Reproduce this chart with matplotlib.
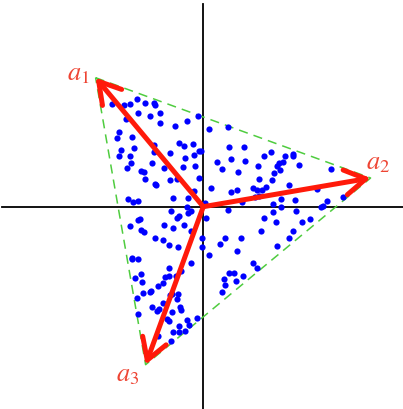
import numpy as np
import matplotlib.pyplot as plt

plt.rcParams['mathtext.fontset'] = 'stix'

# triangle vertices (data units)
ax_x = [-1.077, 1.673, -0.577]
ax_y = [1.290, 0.287, -1.580]
labels = [r'$a_1$', r'$a_2$', r'$a_3$']
label_x = [-1.25, 1.75, -0.76]
label_y = [1.34, 0.45, -1.67]

# points (pixel coords at 3x scale)
px = [336, 373, 391, 410, 434, 463, 466, 377, 414, 450, 479, 479, 524, 561, 594, 626, 685,
      358, 350, 397, 362, 402, 357, 391, 393, 382, 422, 433, 434, 455, 462, 462, 464, 468,
      493, 511, 536, 552, 578, 597, 603, 554, 581, 585, 548, 597, 511, 530, 583, 383, 399,
      413, 520, 565,
      686, 731, 652, 693, 735, 666, 714, 773, 791, 812, 856, 879, 878, 896, 994, 838, 848,
      832, 840, 823, 815, 778, 868, 951, 798, 758, 770, 785, 778, 712, 694, 633, 725, 766,
      819, 843, 884, 843, 888, 818, 962, 970, 982, 1028, 616, 684,
      617, 793, 829, 905, 929, 880, 868, 783, 830, 675, 724, 659, 712, 627, 606, 605, 760,
      770, 687, 703, 730, 672, 675, 708, 665,
      573, 565, 560, 537, 531, 512, 551, 519, 492, 390, 413, 421, 422, 431, 466, 490, 506,
      535, 572, 573, 508, 542, 527, 496, 506, 396, 395, 415, 404, 422, 425, 490, 475, 452,
      450, 428, 410, 414, 455, 476, 488, 472, 509, 517, 535, 530, 540, 542, 516, 500, 507,
      562, 568, 590, 537, 519, 536, 556, 512, 475]
py = [315, 317, 314, 300, 311, 311, 318, 360, 342, 352, 342, 373, 380, 366, 350, 389, 383,
      400, 416, 415, 452, 448, 472, 470, 493, 507, 517, 518, 540, 493, 438, 460, 556, 558,
      508, 463, 432, 440, 434, 456, 456, 478, 468, 500, 505, 537, 543, 541, 577, 600, 608,
      607, 596, 598,
      445, 443, 490, 481, 486, 511, 518, 500, 470, 460, 470, 465, 471, 498, 510, 492, 490,
      502, 512, 523, 543, 541, 558, 571, 565, 566, 573, 573, 590, 572, 580, 568, 610, 595,
      614, 600, 603, 625, 635, 640, 625, 620, 605, 595, 612, 632,
      658, 657, 669, 670, 661, 695, 718, 695, 742, 717, 716, 736, 757, 767, 717, 745, 793,
      807, 822, 822, 831, 839, 857, 847, 879,
      637, 641, 624, 651, 656, 636, 677, 687, 679, 681, 664, 659, 693, 698, 717, 723, 738,
      745, 695, 792, 806, 815, 830, 835, 830, 776, 781, 779, 838, 825, 848, 852, 862, 877,
      880, 881, 898, 945, 923, 930, 913, 935, 887, 885, 885, 900, 923, 932, 940, 960, 966,
      963, 977, 958, 982, 998, 998, 997, 1027, 1012]

x = (np.array(px) - 610) / 300
y = (623 - np.array(py)) / 300

fig = plt.figure(figsize=(4.03, 4.10), dpi=100)
ax = fig.add_axes([0, 0, 1, 1])
ax.set_xlim(-2.033, 1.997)
ax.set_ylim(-2.023, 2.077)
ax.axis('off')

# coordinate axes
ax.plot([-2.01, 2.0], [0, 0], color='black', lw=1.3, zorder=1)
ax.plot([0, 0], [-2.03, 2.03], color='black', lw=1.3, zorder=1)

# dashed triangle
ax.plot(ax_x + [ax_x[0]], ax_y + [ax_y[0]], color='#4fcc3f', lw=1.1, ls=(0, (6, 4)), zorder=2)

ax.scatter(x, y, s=20, color='blue', zorder=3, linewidths=0)

for i in range(3):
    ax.annotate('', xy=(ax_x[i], ax_y[i]), xytext=(0, 0),
                arrowprops=dict(arrowstyle='->,head_length=0.75,head_width=0.45',
                                color='#ff1a0a', lw=3.6, mutation_scale=20,
                                shrinkA=0, shrinkB=0), zorder=4)
    ax.text(label_x[i], label_y[i], labels[i], color='#ee4433', fontsize=19,
            ha='center', va='center', zorder=5)

fig.savefig('out.png', dpi=100)
